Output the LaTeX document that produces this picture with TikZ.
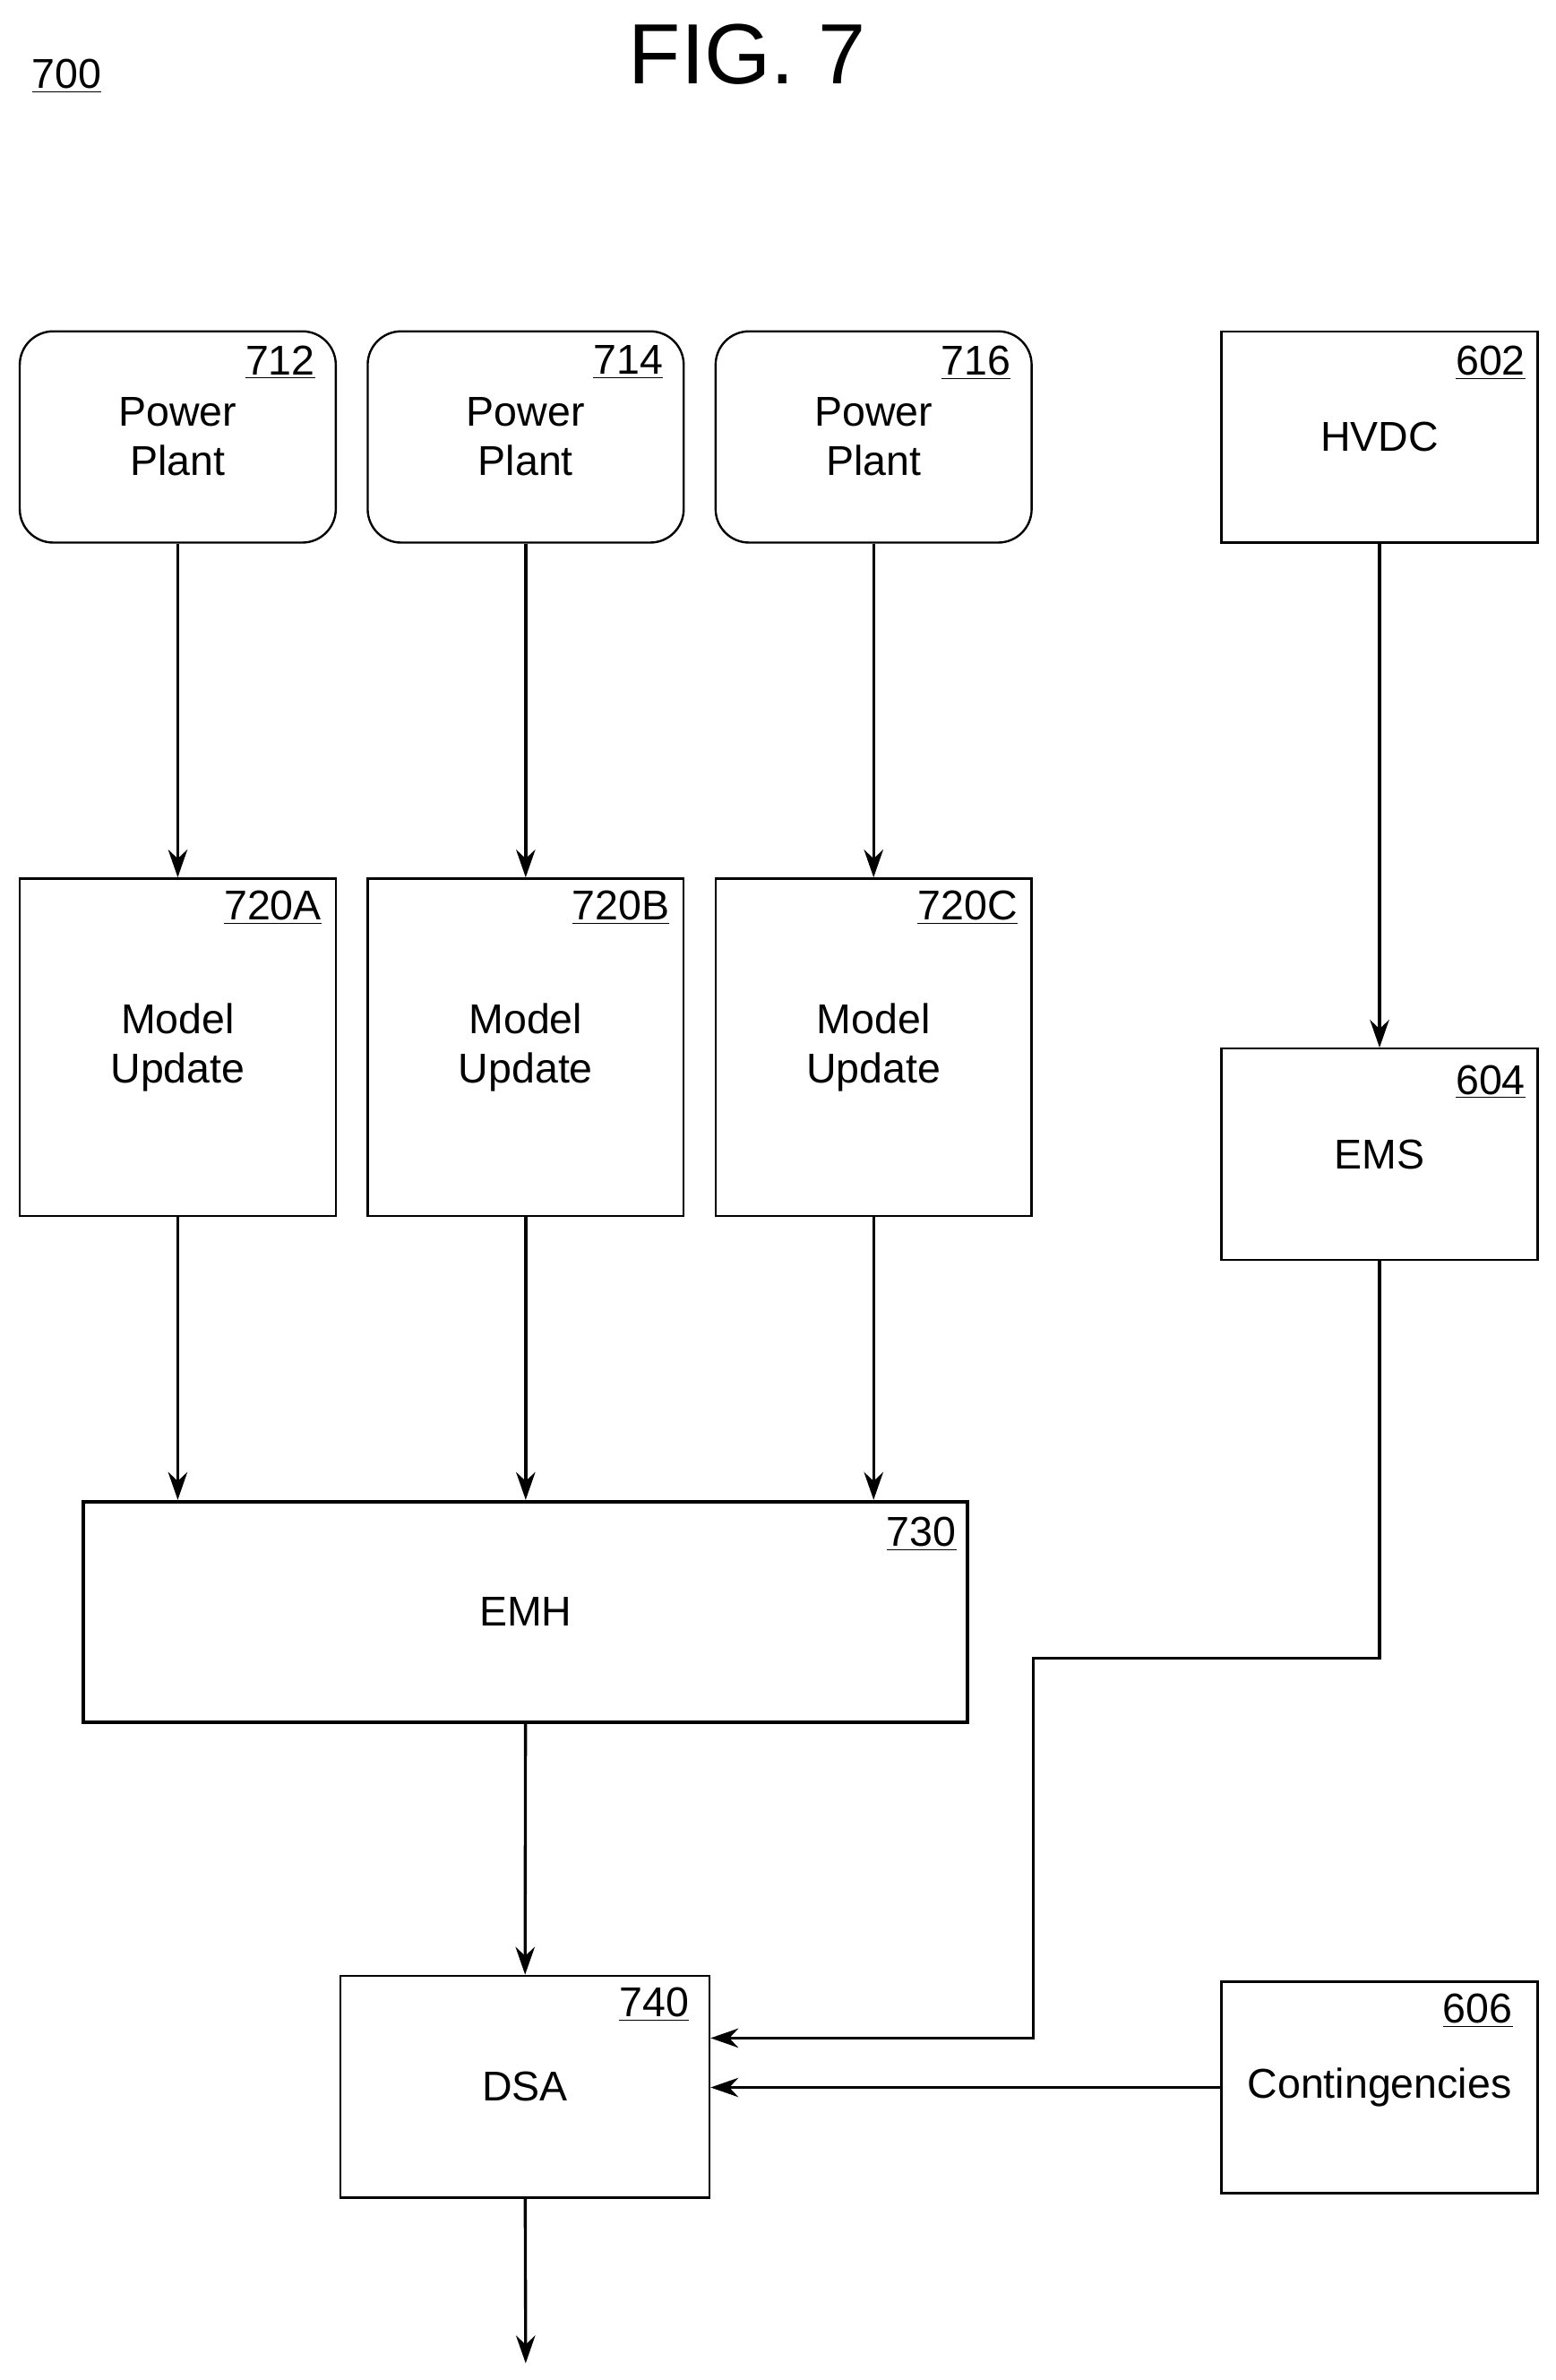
\documentclass[tikz,border=0pt]{standalone}
\usepackage{fontspec}
\setmainfont{Liberation Sans}
\usetikzlibrary{positioning, arrows.meta}

\tikzset{
  box/.style={draw, line width=1pt, minimum width=208*0.025cm, inner sep=0pt, align=center},
  plant/.style={box, rounded corners=0.55cm, minimum height=139*0.025cm},
  tag/.style={anchor=north east, inner sep=0pt},
  flow/.style={line width=1.4pt, -{Stealth[length=13pt, width=9pt]}},
}

\begin{document}
\begin{tikzpicture}[x=0.025cm, y=-0.025cm, font=\fontsize{19.5}{23}\selectfont]
  \useasboundingbox (0,0) rectangle (1024,1566);

  \node[font=\fontsize{40}{46}\selectfont] (fig) at (492,36) {FIG. 7};
  \node (ref) at (44,50) {\underline{700}};

  % Power plants
  \foreach \n/\x/\t in {pa/117/712, pb/346/714, pc/575/716} {
    \node[plant] (\n) at (\x,287.5) {Power\\Plant};
    \node[tag] at ([xshift=-10pt, yshift=-7pt]\n.north east) {\underline{\t}};
  }
  \node[box, minimum height=139*0.025cm] (hvdc) at (908,287.5) {HVDC};
  \node[tag] at ([xshift=-6pt, yshift=-7pt]hvdc.north east) {\underline{602}};

  % Model updates
  \foreach \n/\x/\t in {ma/117/720A, mb/346/720B, mc/575/720C} {
    \node[box, minimum height=222*0.025cm] (\n) at (\x,689) {Model\\Update};
    \node[tag] at ([xshift=-7pt, yshift=-6pt]\n.north east) {\underline{\t}};
  }
  \node[box, minimum height=139*0.025cm] (ems) at (908,759.5) {EMS};
  \node[tag] at ([xshift=-6pt, yshift=-8pt]ems.north east) {\underline{604}};

  % EMH
  \node[box, line width=1.6pt, minimum width=582*0.025cm, minimum height=145*0.025cm] (emh) at (346,1060.5) {EMH};
  \node[tag] at ([xshift=-6pt, yshift=-8pt]emh.north east) {\underline{730}};

  % DSA and contingencies
  \node[box, minimum width=243*0.025cm, minimum height=146*0.025cm] (dsa) at (345.5,1373) {DSA};
  \node[tag] at ([xshift=-10pt, yshift=-6pt]dsa.north east) {\underline{740}};
  \node[box, minimum height=139*0.025cm] (cont) at (908,1373.5) {Contingencies};
  \node[tag] at ([xshift=-12pt, yshift=-6pt]cont.north east) {\underline{606}};

  \coordinate (j1) at (680,1091);
  \coordinate (j2) at (680,1341);
  \coordinate (out) at (346,1555);

  % Connectors
  \foreach \a/\b in {pa/ma, pb/mb, pc/mc, hvdc/ems} \draw[flow] (\a) -- (\b);
  \foreach \m in {ma, mb, mc} \draw[flow] (\m) -- (\m |- emh.north);
  \draw[flow] (emh) -- (dsa);
  \draw[flow] (ems.south) |- (j1) -- (j2) -- (dsa.east |- j2);
  \draw[flow] (cont.west) -- (dsa.east |- cont.west);
  \draw[flow] (dsa) -- (out);
\end{tikzpicture}
\end{document}
